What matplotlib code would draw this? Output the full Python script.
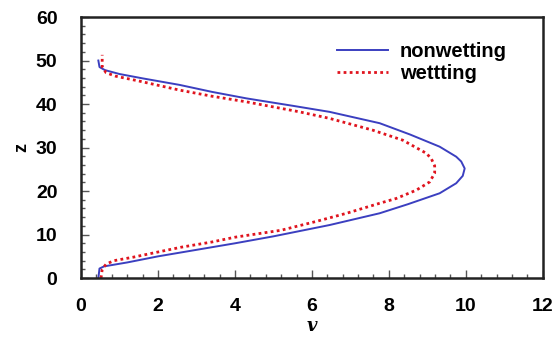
import numpy as np
import matplotlib.pyplot as plt
from matplotlib.ticker import MultipleLocator

# nonwetting profile (v, z)
v_nonwet = [0.45, 0.48, 0.6, 1.2, 2.0, 3.0, 4.0, 5.0, 6.46, 7.76, 8.5,
            9.32, 9.75, 9.92, 9.97, 9.88, 9.75, 9.32, 8.55, 7.76, 6.46,
            5.5, 4.3, 3.4, 2.56, 1.6, 1.0, 0.62, 0.48, 0.45]
z_nonwet = [0.0, 2.2, 2.7, 3.6, 5.0, 6.5, 8.0, 9.6, 12.2, 14.9, 17.0,
            19.5, 21.8, 23.5, 25.2, 26.8, 27.9, 30.2, 33.0, 35.6, 38.2,
            39.6, 41.3, 42.8, 44.4, 45.9, 46.9, 47.8, 48.5, 50.0]

# wetting profile
v_wet = [0.52, 0.55, 0.65, 0.85, 1.35, 2.0, 2.6, 3.4, 4.0, 5.2, 6.1, 6.9,
         7.76, 8.19, 8.71, 9.06, 9.19, 9.19, 9.1, 8.97, 8.36, 7.58, 6.46,
         5.68, 4.3, 3.4, 2.56, 1.5, 0.9, 0.65, 0.55, 0.55]
z_wet = [0.0, 2.0, 3.2, 4.0, 4.8, 6.0, 7.1, 8.3, 9.4, 11.0, 13.0, 14.9,
         17.2, 18.3, 20.2, 22.1, 24.1, 25.8, 27.5, 28.7, 31.7, 34.0, 36.7,
         38.2, 40.5, 41.8, 43.2, 45.3, 46.4, 47.2, 48.6, 51.3]

plt.rcParams['font.family'] = ['Liberation Sans', 'DejaVu Sans']

fig = plt.figure(figsize=(5.55, 3.4), dpi=100)
ax = fig.add_axes([0.146, 0.182, 0.832, 0.768])

ax.plot(v_nonwet, z_nonwet, color='#3b3fc0', lw=1.4, label='nonwetting')
ax.plot(v_wet, z_wet, color='#e0141e', lw=2.0, ls=(0, (1, 1.2)), label='wettting')

ax.set_xlim(0, 12)
ax.set_ylim(0, 60)
ax.xaxis.set_major_locator(MultipleLocator(2))
ax.xaxis.set_minor_locator(MultipleLocator(0.4))
ax.yaxis.set_major_locator(MultipleLocator(10))
ax.yaxis.set_minor_locator(MultipleLocator(2))
ax.tick_params(which='both', direction='in', top=False, right=False,
               color='#555555', width=1)
ax.tick_params(which='major', length=6, labelsize=14)
ax.tick_params(axis='x', which='major', pad=14)
ax.tick_params(axis='y', which='major', pad=17)
ax.tick_params(which='minor', length=3)
for lab in ax.get_xticklabels() + ax.get_yticklabels():
    lab.set_fontweight('bold')
for s in ax.spines.values():
    s.set_linewidth(1.8)
    s.set_color('#222222')

ax.set_xlabel('v', fontsize=13, fontstyle='italic', fontweight='bold',
              family='DejaVu Serif', labelpad=2)
ax.set_ylabel('z', fontsize=13, fontweight='bold', labelpad=4)

ax.legend(loc='upper left', bbox_to_anchor=(0.555, 0.905), frameon=False,
          borderpad=0, borderaxespad=0,
          prop={'weight': 'bold', 'size': 14.5}, handlelength=2.5,
          handletextpad=0.6, labelspacing=0.15)

fig.savefig('out.png', dpi=100)
